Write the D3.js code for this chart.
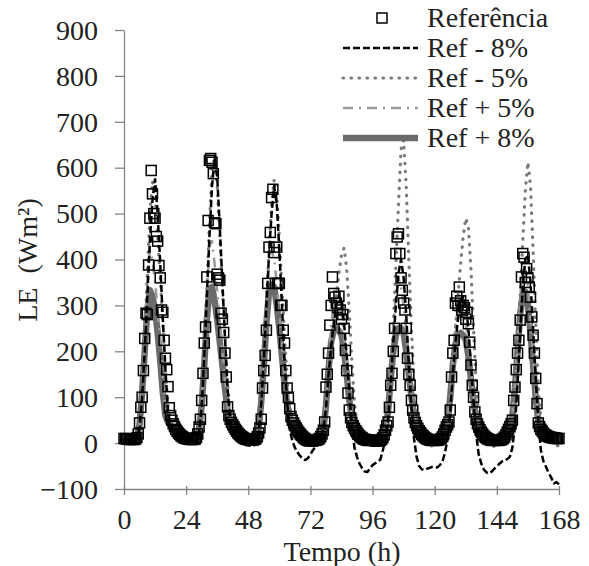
<!DOCTYPE html>
<html>
<head>
<meta charset="utf-8">
<script src="https://cdn.jsdelivr.net/npm/d3@7"></script>
<style>
  body { margin: 0; background: #fff; }
  svg { display: block; }
  svg text { font-family: "Liberation Serif", serif; font-size: 28px; fill: #222; }
</style>
</head>
<body>
<svg id="chart" width="589" height="566"></svg>
<script>
// Daten: Referenz alle 30 min, Szenarien stündlich (0..168 h)
const refLE = [
  10, 10, 9, 9, 8, 8, 8, 8, 8, 9, 12, 20,
  44, 78, 100, 158, 228, 283, 280, 388, 490, 594, 543, 500,
  490, 450, 440, 387, 360, 290, 285, 224, 185, 160, 123, 77,
  60, 50, 42, 36, 30, 26, 22, 19, 16, 14, 12, 11,
  10, 9, 9, 8, 8, 8, 8, 9, 12, 20, 35, 52,
  93, 152, 218, 253, 362, 485, 616, 620, 612, 587, 480, 478,
  368, 360, 355, 283, 270, 241, 196, 144, 79, 60, 52, 45,
  40, 35, 30, 26, 22, 19, 16, 14, 12, 10, 9, 8,
  8, 7, 7, 7, 7, 8, 10, 14, 22, 33, 52, 120,
  158, 191, 246, 348, 427, 459, 535, 553, 415, 348, 427, 348,
  348, 300, 300, 246, 218, 158, 120, 100, 75, 58, 50, 44,
  38, 33, 28, 24, 20, 17, 14, 11, 9, 7, 6, 5,
  5, 5, 5, 6, 6, 7, 8, 10, 14, 20, 28, 46,
  122, 150, 196, 257, 300, 362, 326, 318, 305, 295, 320, 290,
  270, 280, 250, 202, 158, 109, 72, 55, 45, 38, 32, 27,
  23, 19, 16, 13, 11, 9, 8, 7, 6, 6, 6, 6,
  6, 6, 5, 5, 5, 5, 6, 8, 12, 18, 28, 38,
  46, 78, 126, 152, 200, 250, 413, 449, 456, 413, 360, 333,
  305, 290, 250, 185, 150, 126, 93, 72, 55, 45, 38, 32,
  27, 23, 19, 16, 13, 11, 9, 8, 7, 6, 6, 6,
  6, 6, 6, 7, 8, 10, 14, 20, 28, 35, 40, 46,
  72, 144, 196, 224, 305, 320, 300, 340, 310, 290, 300, 295,
  270, 285, 260, 220, 170, 126, 100, 68, 52, 42, 35, 29,
  24, 20, 16, 13, 11, 9, 8, 7, 6, 6, 6, 6,
  6, 6, 6, 7, 8, 10, 13, 18, 24, 30, 36, 42,
  50, 93, 122, 160, 196, 224, 268, 362, 413, 405, 350, 380,
  360, 340, 318, 275, 235, 196, 141, 86, 44, 36, 30, 26,
  22, 19, 17, 15, 14, 13, 12, 12, 11, 11, 10, 10, 10
];

const refMinus8 = [
  8, 7, 6, 6, 6, 9, 35, 100, 200, 320, 440, 530, 575, 500, 390, 270, 160, 70, 35, 25, 18, 12, 8, 5,
  3, 2, 1, 1, 4, 25, 80, 190, 320, 450, 560, 620, 580, 470, 350, 230, 120, 50, 25, 15, 8, 2, -2, -4,
  -5, -6, -6, -3, 20, 85, 180, 300, 410, 500, 560, 520, 420, 300, 180, 90, 30, 5, -10, -20, -28, -34, -37, -33,
  -25, -15, -8, -3, 10, 30, 75, 150, 210, 260, 300, 320, 310, 260, 190, 110, 40, -10, -30, -45, -55, -62, -63, -55,
  -48, -44, -40, -36, -15, 10, 50, 130, 220, 300, 370, 400, 360, 280, 170, 80, 10, -30, -50, -57, -59, -56, -54, -52,
  -52, -53, -48, -40, -20, 10, 70, 150, 220, 270, 300, 320, 300, 250, 170, 90, 20, -25, -45, -58, -64, -66, -62, -56,
  -50, -45, -40, -37, -35, -30, -10, 40, 130, 240, 340, 400, 410, 350, 250, 140, 50, -15, -40, -52, -65, -75, -88, -85, -90
];

const refMinus5 = [
  9, 8, 7, 7, 7, 10, 40, 110, 230, 370, 500, 570, 540, 450, 360, 260, 160, 80, 45, 35, 28, 22, 17, 13,
  11, 9, 8, 8, 11, 30, 90, 200, 340, 480, 600, 620, 560, 450, 340, 230, 130, 65, 42, 32, 24, 17, 12, 8,
  7, 6, 5, 7, 25, 90, 190, 310, 420, 520, 575, 540, 450, 340, 230, 140, 75, 45, 32, 22, 14, 7, 2, 0,
  0, -2, -2, 0, 8, 25, 70, 140, 210, 270, 320, 370, 410, 425, 380, 290, 180, 90, 40, 20, 8, 0, -4, -5,
  -5, -6, -5, -2, 6, 25, 65, 150, 260, 390, 520, 640, 660, 560, 400, 250, 130, 60, 30, 15, 5, -2, -5, -6,
  -6, -5, -2, 6, 22, 42, 95, 170, 250, 320, 390, 450, 490, 470, 380, 250, 130, 55, 25, 10, 2, -4, -6, -7,
  -7, -5, 0, 8, 20, 33, 60, 120, 210, 320, 440, 550, 612, 560, 420, 260, 120, 50, 25, 12, 5, 0, -3, -5, -6
];

const refPlus5 = [
  10, 9, 8, 8, 8, 12, 45, 120, 230, 350, 420, 400, 350, 290, 220, 140, 75, 50, 40, 33, 27, 22, 17, 13,
  11, 9, 8, 8, 12, 32, 90, 200, 330, 430, 440, 390, 330, 270, 200, 140, 80, 55, 42, 33, 26, 19, 14, 10,
  8, 7, 7, 10, 32, 100, 200, 310, 400, 420, 400, 350, 290, 220, 150, 95, 65, 48, 36, 26, 17, 11, 6, 4,
  4, 3, 4, 6, 12, 30, 90, 180, 260, 300, 305, 295, 280, 235, 170, 105, 58, 40, 28, 18, 10, 5, 2, 2,
  2, 1, 1, 3, 10, 30, 75, 160, 250, 330, 360, 340, 300, 240, 175, 110, 65, 45, 30, 20, 12, 6, 3, 2,
  2, 2, 5, 12, 27, 45, 110, 190, 260, 290, 290, 280, 265, 220, 160, 100, 58, 38, 25, 16, 9, 4, 2, 1,
  1, 2, 5, 11, 22, 35, 62, 130, 220, 320, 380, 375, 340, 270, 190, 110, 52, 30, 20, 14, 10, 8, 6, 4, 3
];

const refPlus8 = [
  10, 9, 8, 8, 8, 12, 40, 110, 200, 290, 333, 320, 290, 240, 180, 110, 60, 45, 38, 32, 26, 21, 17, 13,
  11, 9, 8, 8, 12, 30, 80, 170, 270, 335, 340, 310, 270, 220, 170, 120, 70, 50, 40, 32, 25, 19, 14, 10,
  8, 7, 7, 10, 30, 90, 170, 260, 330, 345, 340, 300, 250, 190, 130, 85, 60, 45, 35, 25, 17, 11, 7, 5,
  5, 5, 6, 8, 14, 30, 80, 160, 220, 245, 250, 245, 235, 200, 150, 95, 55, 40, 30, 22, 15, 10, 7, 6,
  6, 5, 5, 6, 12, 30, 70, 140, 200, 235, 250, 250, 240, 200, 150, 100, 62, 45, 33, 24, 16, 11, 8, 6,
  6, 6, 8, 14, 28, 45, 100, 170, 215, 235, 240, 235, 225, 190, 140, 90, 55, 38, 27, 19, 13, 9, 7, 6,
  6, 6, 8, 13, 24, 36, 60, 120, 200, 280, 325, 330, 300, 240, 170, 100, 50, 32, 24, 19, 16, 14, 13, 12, 11
];

const xTicks = [0, 24, 48, 72, 96, 120, 144, 168];
const yTicks = [-100, 0, 100, 200, 300, 400, 500, 600, 700, 800, 900];
const legendLabels = ["Referência", "Ref - 8%", "Ref - 5%", "Ref + 5%", "Ref + 8%"];

// Konfiguration
const svg = d3.select("#chart");
const axisColor = "#858585";

const x = d3.scaleLinear().domain([0, 168]).range([124, 559]);
const y = d3.scaleLinear().domain([-100, 900]).range([489, 30]);

// Linienstile der Szenarien
const styles = [
  { stroke: "#000", width: 2.5, dash: "7,3", cap: "butt" },        // Ref - 8%
  { stroke: "#7a7a7a", width: 3.2, dash: "0.5,7.5", cap: "round" }, // Ref - 5%
  { stroke: "#9a9a9a", width: 2.5, dash: "10,6,2,6", cap: "butt" }, // Ref + 5%
  { stroke: "#6b6b6b", width: 6.5, dash: null, cap: "butt" }        // Ref + 8%
];
const scenarios = [refMinus8, refMinus5, refPlus5, refPlus8];

// Achsen
const yAxis = svg.append("g")
  .attr("transform", `translate(${x(0)},0)`)
  .call(d3.axisLeft(y).tickValues(yTicks).tickSize(9).tickSizeOuter(0).tickPadding(17));
const xAxis = svg.append("g")
  .attr("transform", `translate(0,${y(-100)})`)
  .call(d3.axisBottom(x).tickValues(xTicks).tickSize(6).tickSizeOuter(0));

[yAxis, xAxis].forEach(a => {
  a.attr("font-family", null).attr("font-size", null);
  a.select(".domain").attr("stroke", axisColor).attr("stroke-width", 1.3);
  a.selectAll(".tick line").attr("stroke", axisColor).attr("stroke-width", 1.3);
  a.selectAll("text").attr("fill", null);
});
yAxis.selectAll("text").attr("dy", "0.33em");
xAxis.selectAll(".tick line").attr("y1", -3).attr("y2", 6);
xAxis.selectAll("text").attr("y", 40).attr("dy", 0);

// Achsentitel
svg.append("text")
  .attr("x", 342)
  .attr("y", 561)
  .attr("text-anchor", "middle")
  .text("Tempo (h)");

svg.append("text")
  .attr("transform", "translate(37,260) rotate(-90)")
  .attr("text-anchor", "middle")
  .text("LE\u00a0\u00a0(Wm²)");

// Szenario-Linien (stündlich), dicke Linie zuerst
const hourLine = d3.line().x((d, i) => x(i)).y(d => y(d));
[3, 2, 1, 0].forEach(k => {
  const s = styles[k];
  svg.append("path")
    .datum(scenarios[k])
    .attr("d", hourLine)
    .attr("fill", "none")
    .attr("stroke", s.stroke)
    .attr("stroke-width", s.width)
    .attr("stroke-dasharray", s.dash)
    .attr("stroke-linecap", s.cap)
    .attr("stroke-linejoin", "round");
});

// Referenz: offene Quadrate (halbstündlich)
const sq = 10;
svg.append("g")
  .selectAll("rect")
  .data(refLE)
  .join("rect")
  .attr("x", (d, i) => x(i * 0.5) - sq / 2)
  .attr("y", d => y(d) - sq / 2)
  .attr("width", sq)
  .attr("height", sq)
  .attr("fill", "none")
  .attr("stroke", "#000")
  .attr("stroke-width", 1.5);

// Legende
const lgX1 = 343, lgX2 = 418, lgTextX = 427, lgY0 = 18, lgDy = 30;
const legend = svg.append("g");
legendLabels.forEach((label, i) => {
  const cy = lgY0 + i * lgDy;
  if (i === 0) {
    legend.append("rect")
      .attr("x", 382 - sq / 2)
      .attr("y", cy - sq / 2)
      .attr("width", sq)
      .attr("height", sq)
      .attr("fill", "none")
      .attr("stroke", "#000")
      .attr("stroke-width", 1.5);
  } else {
    const s = styles[i - 1];
    legend.append("line")
      .attr("x1", lgX1)
      .attr("x2", lgX2)
      .attr("y1", cy)
      .attr("y2", cy)
      .attr("stroke", s.stroke)
      .attr("stroke-width", s.width)
      .attr("stroke-dasharray", s.dash)
      .attr("stroke-linecap", s.cap);
  }
  legend.append("text")
    .attr("x", lgTextX)
    .attr("y", cy + 9)
    .text(label);
});
</script>
</body>
</html>
